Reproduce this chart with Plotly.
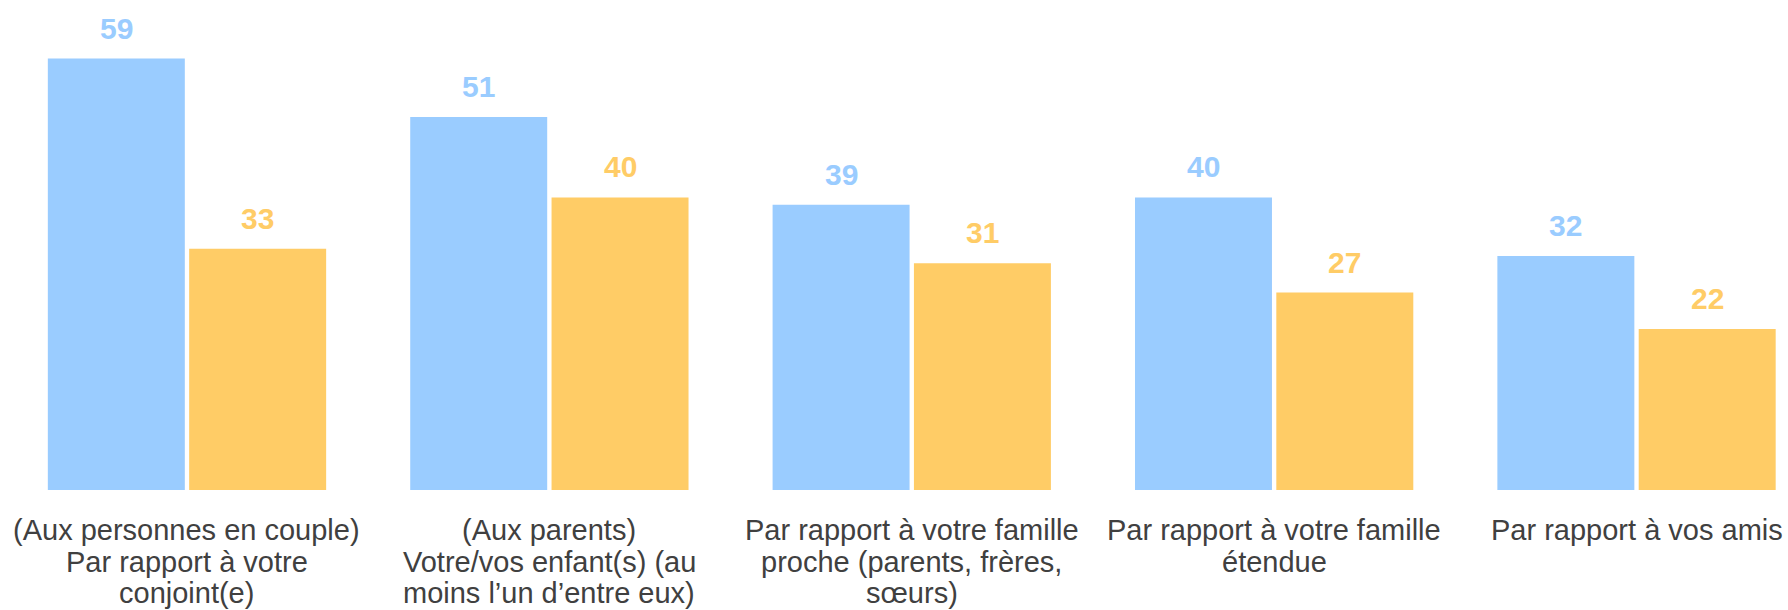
import plotly.graph_objects as go

# Categories, each label split into its display lines
categories = [
    "(Aux personnes en couple) Par rapport à votre conjoint(e)",
    "(Aux parents) Votre/vos enfant(s) (au moins l’un d’entre eux)",
    "Par rapport à votre famille proche (parents, frères, sœurs)",
    "Par rapport à votre famille étendue",
    "Par rapport à vos amis",
]
category_lines = [
    ["(Aux personnes en couple)", "Par rapport à votre", "conjoint(e)"],
    ["(Aux parents)", "Votre/vos enfant(s) (au", "moins l’un d’entre eux)"],
    ["Par rapport à votre famille", "proche (parents, frères,", "sœurs)"],
    ["Par rapport à votre famille", "étendue"],
    ["Par rapport à vos amis"],
]

# Series values
values_blue = [59, 51, 39, 40, 32]
values_orange = [33, 40, 31, 27, 22]

BLUE = "#9ACCFF"
ORANGE = "#FFCC66"
TEXT = "#404040"
FONT = "Liberation Sans, Arial, sans-serif"

BAR_W = 0.378
OFF_BLUE = -0.384
OFF_ORANGE = 0.006

x = list(range(len(categories)))

fig = go.Figure()
fig.add_trace(go.Bar(x=x, y=values_blue, width=BAR_W, offset=OFF_BLUE,
                     marker=dict(color=BLUE, line=dict(width=0)),
                     hovertext=categories, showlegend=False))
fig.add_trace(go.Bar(x=x, y=values_orange, width=BAR_W, offset=OFF_ORANGE,
                     marker=dict(color=ORANGE, line=dict(width=0)),
                     hovertext=categories, showlegend=False))

annotations = []
# Value labels above each bar
for i, (vb, vo) in enumerate(zip(values_blue, values_orange)):
    for v, off, col in ((vb, OFF_BLUE, BLUE), (vo, OFF_ORANGE, ORANGE)):
        annotations.append(dict(
            x=i + off + BAR_W / 2, y=v, xref="x", yref="y",
            text=f"<b>{v}</b>", showarrow=False, yanchor="bottom", yshift=12,
            font=dict(family=FONT, size=30, color=col),
        ))

# Category labels below the axis, one line at a time
LINE_STEP = 31.7
for i, lines in enumerate(category_lines):
    for k, line in enumerate(lines):
        annotations.append(dict(
            x=i, y=0, xref="x", yref="paper",
            text=line, showarrow=False, yanchor="middle",
            yshift=-(40 + k * LINE_STEP),
            font=dict(family=FONT, size=29, color=TEXT),
        ))

fig.update_layout(
    width=1788, height=610,
    margin=dict(l=0, r=0, t=0, b=120),
    paper_bgcolor="white", plot_bgcolor="white",
    barmode="overlay",
    xaxis=dict(range=[-0.516, 4.418], showticklabels=False, showgrid=False,
               zeroline=False, showline=False, ticks=""),
    yaxis=dict(range=[0, 67], visible=False),
    annotations=annotations,
)

fig.write_html("out.html")
